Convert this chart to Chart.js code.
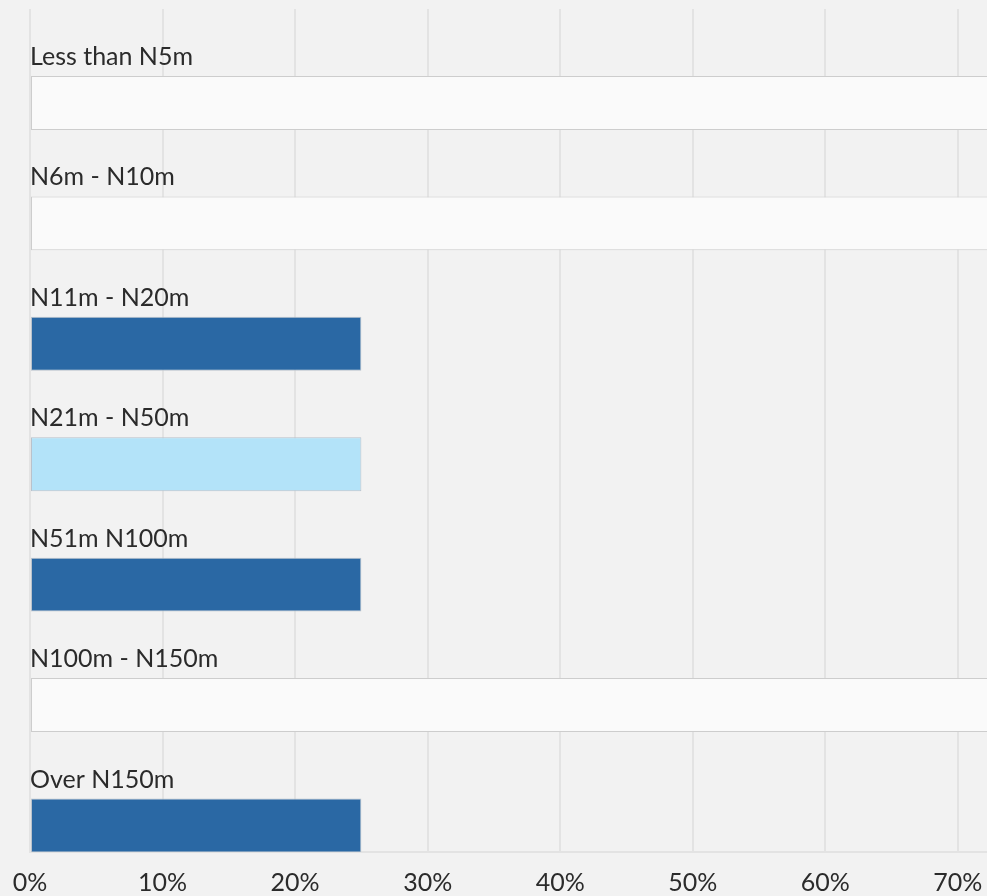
<!DOCTYPE html>
<html>
<head>
<meta charset="utf-8">
<script src="https://cdn.jsdelivr.net/npm/chart.js@4/dist/chart.umd.min.js"></script>
<style>
    html, body { margin: 0; padding: 0; background: #f2f2f2; overflow: hidden; }
    .wrap { position: relative; width: 987px; height: 896px; }
</style>
</head>
<body>
<div class="wrap"><canvas id="chart"></canvas></div>
<script>
const categories = ['Less than N5m', 'N6m - N10m', 'N11m - N20m', 'N21m - N50m', 'N51m N100m', 'N100m - N150m', 'Over N150m'];
const shares = [null, null, 25, 25, 25, null, 25];
const emptyRows = [100, 100, null, null, null, 100, null];
const xTicks = [0, 10, 20, 30, 40, 50, 60, 70];

const dark = '#2a68a4';
const light = '#b3e3f9';
const barColors = categories.map((c, i) => (i % 2 === 0 ? dark : light));

// writes the category name just above its bar
const rowLabels = {
    id: 'rowLabels',
    afterDatasetsDraw(chart) {
        const ctx = chart.ctx;
        const meta = chart.getDatasetMeta(1);
        ctx.save();
        ctx.font = '25px Lato';
        ctx.fillStyle = '#2b2b2b';
        ctx.textAlign = 'left';
        ctx.textBaseline = 'alphabetic';
        meta.data.forEach((bar, i) => {
            const { y, height } = bar.getProps(['y', 'height'], true);
            ctx.fillText(categories[i], chart.chartArea.left, y - height / 2 - 11);
        });
        ctx.restore();
    },
};

const ctx = document.getElementById('chart').getContext('2d');

new Chart(ctx, {
    type: 'bar',
    data: {
        labels: categories,
        datasets: [
            {
                label: 'spacer',
                data: categories.map(() => null),
                stack: 'spacer',
            },
            {
                label: 'Share',
                data: shares,
                stack: 'main',
                backgroundColor: barColors,
                borderColor: '#b9c2cc',
                borderWidth: 1,
                borderSkipped: false,
            },
            {
                label: 'No answers',
                data: emptyRows,
                stack: 'main',
                backgroundColor: '#fafafa',
                borderColor: '#cdcdcd',
                borderWidth: 1,
                borderSkipped: false,
            },
        ],
    },
    options: {
        indexAxis: 'y',
        responsive: true,
        maintainAspectRatio: false,
        animation: false,
        categoryPercentage: 1.12,
        barPercentage: 0.8,
        layout: {
            padding: { top: 9, left: 30, right: 0, bottom: 0 },
        },
        plugins: {
            legend: { display: false },
            tooltip: { enabled: false },
        },
        scales: {
            x: {
                stacked: true,
                min: 0,
                max: 72.2,
                afterBuildTicks: (axis) => {
                    axis.ticks = xTicks.map((v) => ({ value: v }));
                },
                afterFit: (axis) => {
                    axis.height = 44;
                    axis.paddingLeft = 0;
                    axis.paddingRight = 0;
                },
                grid: {
                    color: '#e3e3e3',
                    lineWidth: 2,
                    drawTicks: false,
                },
                border: {
                    color: '#e3e3e3',
                    width: 2,
                },
                ticks: {
                    padding: 17,
                    color: '#2b2b2b',
                    font: { family: 'Lato', size: 25, lineHeight: 1.1 },
                    maxRotation: 0,
                    callback: (val) => val + '%',
                },
            },
            y: {
                display: false,
            },
        },
    },
    plugins: [rowLabels],
});
</script>
</body>
</html>
